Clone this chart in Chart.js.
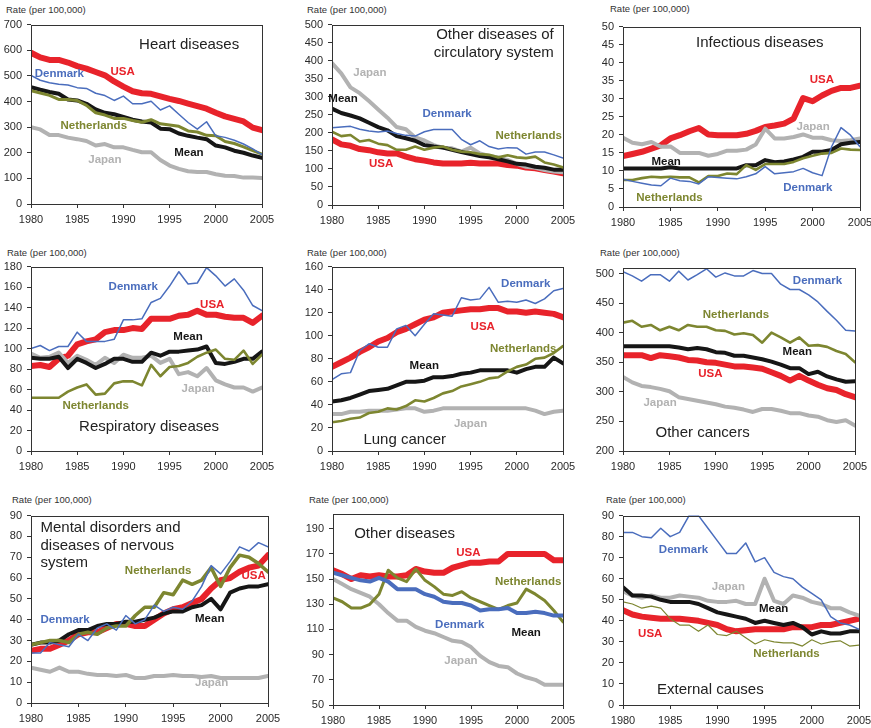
<!DOCTYPE html>
<html>
<head>
<meta charset="utf-8">
<script src="https://cdn.jsdelivr.net/npm/chart.js@4.4.1/dist/chart.umd.min.js"></script>
<style>
body { margin: 0; background: #fff; }
#page { position: relative; width: 871px; height: 728px; overflow: hidden; font-family: "Liberation Sans", Arial, sans-serif; }
.rate { position: absolute; font-size: 9.5px; color: #333; white-space: nowrap; line-height: 11px; }
canvas { position: absolute; }
</style>
</head>
<body>
<div id="page"></div>
<script>
const years = [1980,1981,1982,1983,1984,1985,1986,1987,1988,1989,1990,1991,1992,1993,1994,1995,1996,1997,1998,1999,2000,2001,2002,2003,2004,2005];

// Heart diseases
const heartUSA = [590,572,562,562,552,538,528,515,502,478,458,440,432,430,420,410,402,392,382,372,356,342,332,322,298,288];
const heartDenmark = [502,483,473,467,464,454,451,432,423,404,421,391,391,401,367,383,350,318,292,321,266,260,249,234,215,193];
const heartMean = [456,446,437,430,408,404,391,369,356,350,340,329,322,318,294,292,275,266,259,253,228,221,208,200,189,180];
const heartNetherlands = [442,433,424,408,408,404,385,356,347,334,334,326,319,329,313,308,303,285,281,268,266,244,236,223,208,195];
const heartJapan = [300,291,269,269,259,253,246,228,234,221,221,211,202,202,172,150,137,128,125,125,116,110,109,103,103,101];

// Other diseases of circulatory system
const circJapan = [393,365,326,310,288,265,242,216,210,187,179,166,159,157,148,159,143,136,132,125,114,106,103,97,93,91];
const circMean = [267,255,248,240,228,216,207,191,185,178,166,162,159,153,147,141,136,132,127,121,114,112,106,103,98,98];
const circDenmark = [214,216,218,210,205,202,205,198,193,191,203,209,209,209,182,167,178,162,155,159,158,141,147,147,139,130];
const circNetherlands = [203,191,194,176,180,170,166,153,153,162,153,159,162,153,148,146,141,139,132,138,132,130,134,118,112,104];
const circUSA = [182,168,164,155,152,146,143,143,134,127,123,118,115,115,115,117,115,115,115,111,109,104,102,97,93,88];

// Infectious diseases
const infUSA = [14.1,14.7,15.3,16.2,17.1,19.0,19.9,21.0,21.9,20.1,19.9,19.9,19.9,20.3,21.1,22.2,22.6,23.1,24.5,30.2,29.3,30.9,32.2,33.0,33.0,33.6];
const infJapan = [19.2,17.8,17.4,18.0,16.7,16.8,15.0,15.0,15.0,14.2,14.7,15.6,15.6,15.9,17.3,21.7,19.0,19.0,19.4,20.1,19.2,19.2,18.5,18.3,18.5,19.0];
const infMean = [10.7,10.7,10.7,10.7,10.7,11.0,10.7,10.7,10.7,10.7,10.7,10.7,10.7,11.6,11.6,13.0,12.4,12.6,13.2,13.9,15.3,15.3,15.8,17.4,17.8,18.0];
const infNetherlands = [7.5,7.5,8.0,8.4,8.2,8.4,8.2,8.2,6.8,8.6,8.6,9.3,9.1,11.6,10.3,11.9,11.9,11.9,12.5,13.5,14.2,14.8,15.0,16.2,15.9,15.8];
const infDenmark = [7.7,7.1,6.6,6.1,5.9,8.0,7.3,7.1,6.4,8.4,8.2,8.0,7.8,8.4,9.2,11.2,9.2,9.5,9.8,10.7,9.5,8.7,16.7,22.0,19.9,16.7];

// Respiratory diseases
const respDenmark = [100,103,98,102,102,116,107,107,107,109,128,128,129,145,149,161,175,163,164,179,171,161,168,157,142,137];
const respUSA = [83,84,82,90,93,104,107,109,116,118,118,120,119,129,129,129,132,133,137,133,133,131,130,130,125,132];
const respMean = [91,90,90,92,81,90,86,81,85,90,90,87,87,96,93,97,97,98,99,102,86,85,87,90,90,97];
const respJapan = [95,91,92,96,86,93,89,84,91,86,94,91,91,93,86,90,75,77,73,81,69,65,62,62,58,62];
const respNetherlands = [52,52,52,52,58,62,65,55,56,66,68,68,64,84,73,82,83,86,92,96,99,90,89,98,85,94];

// Lung cancer
const lungDenmark = [62,67,68,87,93,90,90,106,109,100,110,119,118,117,133,131,132,142,129,130,129,131,128,132,139,141];
const lungUSA = [73,77,81,86,90,95,98,103,106,110,114,116,120,121,122,123,123,124,124,121,121,120,121,120,119,116];
const lungMean = [43,44,46,49,52,53,54,57,60,60,61,64,64,65,67,68,70,70,70,70,68,71,73,73,81,76];
const lungNetherlands = [25,26,28,29,33,34,37,36,39,44,43,46,50,52,56,58,60,63,64,69,73,75,80,81,85,91];
const lungJapan = [32,32,34,34,35,35,35,36,37,37,34,35,37,37,37,37,37,37,37,37,37,37,35,32,34,35];

// Other cancers
const cancDenmark = [503,496,487,498,498,487,504,489,498,508,494,501,496,496,505,500,500,482,473,473,464,452,436,421,404,403];
const cancNetherlands = [417,420,410,413,404,410,404,413,410,410,404,403,397,399,396,383,400,392,383,392,378,379,376,369,364,350];
const cancMean = [377,377,377,377,377,377,375,372,374,372,367,366,361,361,358,355,351,346,340,340,330,334,326,321,317,318];
const cancUSA = [362,362,362,357,362,360,358,354,353,350,349,346,343,343,341,339,333,327,319,327,319,312,306,303,296,291];
const cancJapan = [325,316,310,308,305,301,291,288,285,282,279,275,273,270,266,271,271,268,264,264,260,258,252,249,252,243];

// Mental disorders and diseases of nervous system
const mentDenmark = [24,24,29,28,27,33,30,36,38,35,42,38,40,47,44,46,45,49,56,66,62,68,75,73,77,75];
const mentUSA = [25,26,26,28,30,33,34,34,36,38,38,37,37,40,43,45,46,48,50,55,59,60,63,65,66,71];
const mentMean = [28,29,29,30,33,35,35,37,38,38,39,39,40,41,43,44,44,46,47,50,45,53,55,56,56,57];
const mentNetherlands = [28,29,30,30,29,33,34,33,36,37,37,42,46,46,53,52,59,57,59,65,56,65,71,70,67,63];
const mentJapan = [17,16,15,17,15,15,14,13.5,13.5,13,13.5,12,12,13,13,13.5,13,13,12.5,13,12,12,12,12,12,13];

// Other diseases (no Mean line drawn in the original)
const othUSA = [157,154,150,153,152,153,152,152,153,158,156,155,155,159,161,163,163,164,164,170,170,170,170,170,165,165];
const othDenmark = [155,153,151,149,148,151,148,142,142,142,138,136,132,131,131,129,125,126,126,127,123,123,124,123,121,121];
const othNetherlands = [135,132,127,127,130,138,157,151,148,158,149,144,138,137,140,135,132,129,126,129,131,142,138,133,125,116];
const othJapan = [150,146,142,139,136,130,123,117,117,112,109,107,104,101,100,96,89,84,81,80,75,72,70,66,66,66];
const othTicks = [50,70,90,110,130,150,170,190];

// External causes
const extDenmark = [82,82,80,79.5,84,80,82,90,90,84,78,72,72,77,68,70,63,61,60,56,53,50,42,39,38,36];
const extJapan = [54,52,51,52,51,51,52,51.5,51,49.5,49,49,49.5,48,48,60,49.5,48,52,51,49,48,46,46,44,42.5];
const extMean = [56,52,52,51.5,50,49,49,49,48,46,44,43,42,41,39,40,39,38,39,37,33.5,35,34,34,35,35];
const extNetherlands = [49,48,46,47,46,41,38,38,35,38,33.5,33,35,32,29,31,30,29.5,29.5,28,31,29,30,30.5,28,28.5];
const extUSA = [45,43,42,41.5,41,41,41,40.5,40,39,38,36,35,35.5,36,36,36,36,37,37,37,38,38,39,40,41];

const colors = {
    USA: '#e8232b',
    Denmark: '#4a6dbd',
    Netherlands: '#7d8630',
    Mean: '#161616',
    Japan: '#b2b2b2'
};
const widths = { USA: 6, Denmark: 1.5, Netherlands: 2.6, Mean: 4, Japan: 4 };
// drawing order, first one ends up on top
const seriesOrder = ['Denmark', 'Netherlands', 'Mean', 'Japan', 'USA'];

const panels = [
    { area: [31, 23, 262, 204], y: [0, 700, 100], rate: [6, 4],
      series: { USA: heartUSA, Denmark: heartDenmark, Mean: heartMean, Netherlands: heartNetherlands, Japan: heartJapan },
      widths: { Netherlands: 3 },
      title: { lines: ['Heart diseases'], x: 1991.7, y: 620, align: 'left' },
      labels: [['USA', 1988.6, 517], ['Denmark', 1980.4, 507], ['Netherlands', 1983.2, 305], ['Mean', 1995.5, 200], ['Japan', 1986.2, 172]] },
    { area: [332, 23, 563, 205], y: [0, 500, 50], rate: [307, 4],
      series: { Japan: circJapan, Mean: circMean, Denmark: circDenmark, Netherlands: circNetherlands, USA: circUSA },
      title: { lines: ['Other diseases of', 'circulatory system'], x: 2004.0, y: 471, align: 'right' },
      labels: [['Japan', 1982.3, 367], ['Mean', 1979.6, 295], ['Denmark', 1989.8, 253], ['Netherlands', 1997.7, 191], ['USA', 1984.0, 115]] },
    { area: [623, 25, 860, 207], y: [0, 50, 5], rate: [610, 3],
      series: { USA: infUSA, Japan: infJapan, Mean: infMean, Netherlands: infNetherlands, Denmark: infDenmark },
      title: { lines: ['Infectious diseases'], x: 1987.7, y: 45.5, align: 'left' },
      labels: [['USA', 1999.7, 35.2], ['Japan', 1998.3, 22.3], ['Mean', 1983.0, 12.5], ['Denmark', 1996.9, 5.2], ['Netherlands', 1981.4, 2.5]] },
    { area: [31, 265, 262, 451], y: [0, 180, 20], rate: [7, 247],
      series: { Denmark: respDenmark, USA: respUSA, Mean: respMean, Japan: respJapan, Netherlands: respNetherlands },
      title: { lines: ['Respiratory diseases'], x: 1985.2, y: 24, align: 'left' },
      labels: [['Denmark', 1988.4, 160], ['USA', 1998.3, 143], ['Mean', 1995.4, 111], ['Japan', 1996.3, 61], ['Netherlands', 1983.4, 44]] },
    { area: [332, 265, 563, 451], y: [0, 160, 20], rate: [307, 247],
      series: { Denmark: lungDenmark, USA: lungUSA, Mean: lungMean, Netherlands: lungNetherlands, Japan: lungJapan },
      title: { lines: ['Lung cancer'], x: 1983.4, y: 10, align: 'left' },
      labels: [['Denmark', 1998.3, 145], ['USA', 1995.0, 108], ['Netherlands', 1997.1, 89], ['Mean', 1988.4, 74], ['Japan', 1993.2, 24]] },
    { area: [623, 266, 855, 451], y: [200, 510, 50], rate: [600, 247],
      series: { Denmark: cancDenmark, Netherlands: cancNetherlands, Mean: cancMean, USA: cancUSA, Japan: cancJapan },
      title: { lines: ['Other cancers'], x: 1983.5, y: 231, align: 'left' },
      labels: [['Denmark', 1998.3, 487], ['Netherlands', 1988.6, 431], ['Mean', 1997.2, 367], ['USA', 1988.1, 330], ['Japan', 1982.2, 282]] },
    { area: [31, 514, 268, 703], y: [0, 90, 10], rate: [12, 494],
      series: { Denmark: mentDenmark, USA: mentUSA, Mean: mentMean, Netherlands: mentNetherlands, Japan: mentJapan },
      widths: { Netherlands: 3.5 },
      title: { lines: ['Mental disorders and', 'diseases of nervous', 'system'], x: 1981.0, y: 84, align: 'left' },
      labels: [['Netherlands', 1989.9, 63.5], ['USA', 2002.2, 61], ['Denmark', 1981.0, 40], ['Mean', 1997.3, 40.5], ['Japan', 1997.3, 9.5]] },
    { area: [333, 512, 563, 705], y: [50, 202, 20], ticks: othTicks, rate: [309, 494],
      series: { USA: othUSA, Denmark: othDenmark, Netherlands: othNetherlands, Japan: othJapan },
      widths: { Denmark: 4, Netherlands: 3 },
      title: { lines: ['Other diseases'], x: 1982.3, y: 186, align: 'left' },
      labels: [['USA', 1993.4, 171], ['Netherlands', 1997.6, 148], ['Denmark', 1991.1, 114], ['Mean', 1999.4, 107], ['Japan', 1992.1, 85]] },
    { area: [623, 514, 859, 705], y: [0, 90, 10], rate: [606, 494],
      series: { Denmark: extDenmark, Japan: extJapan, Mean: extMean, Netherlands: extNetherlands, USA: extUSA },
      widths: { Netherlands: 1.2 },
      title: { lines: ['External causes'], x: 1983.6, y: 7.4, align: 'left' },
      labels: [['Denmark', 1983.8, 73.5], ['Japan', 1989.4, 56], ['Mean', 1994.4, 45.6], ['USA', 1981.6, 33.8], ['Netherlands', 1993.8, 24.4]] }
];

const AXW = 40, AXH = 26, PADT = 10, PADR = 20;
const FONT = '"Liberation Sans", Arial, sans-serif';

const panelText = {
    id: 'panelText',
    afterDatasetsDraw(chart, args, opts) {
        const ctx = chart.ctx;
        const a = chart.chartArea;
        const sx = chart.scales.x, sy = chart.scales.y;
        ctx.save();
        ctx.strokeStyle = '#333';
        ctx.lineWidth = 1;
        ctx.strokeRect(Math.round(a.left) + 0.5, Math.round(a.top) + 0.5, Math.round(a.right - a.left), Math.round(a.bottom - a.top));

        ctx.textBaseline = 'middle';
        ctx.font = 'bold 11.5px ' + FONT;
        opts.labels.forEach(l => {
            ctx.fillStyle = colors[l[0]];
            ctx.textAlign = 'left';
            ctx.fillText(l[0], sx.getPixelForValue(l[1]), sy.getPixelForValue(l[2]));
        });

        const t = opts.title;
        ctx.font = '15px ' + FONT;
        ctx.fillStyle = '#222';
        ctx.textAlign = t.align;
        const x0 = sx.getPixelForValue(t.x), y0 = sy.getPixelForValue(t.y);
        t.lines.forEach((line, i) => ctx.fillText(line, x0, y0 + i * 17.5));
        ctx.restore();
    }
};

function buildPanel(p) {
    const page = document.getElementById('page');
    const [L, T, R, B] = p.area;

    const rate = document.createElement('div');
    rate.className = 'rate';
    rate.textContent = 'Rate (per 100,000)';
    rate.style.left = p.rate[0] + 'px';
    rate.style.top = p.rate[1] + 'px';
    page.appendChild(rate);

    const canvas = document.createElement('canvas');
    const w = R - L + AXW + PADR, h = B - T + PADT + AXH;
    canvas.width = w;
    canvas.height = h;
    canvas.style.left = (L - AXW) + 'px';
    canvas.style.top = (T - PADT) + 'px';
    canvas.style.width = w + 'px';
    canvas.style.height = h + 'px';
    page.appendChild(canvas);

    const datasets = seriesOrder.filter(name => p.series[name]).map(name => ({
        label: name,
        data: p.series[name].map((v, i) => ({ x: years[i], y: v })),
        borderColor: colors[name],
        borderWidth: (p.widths && p.widths[name]) || widths[name],
        pointRadius: 0,
        tension: 0,
        fill: false,
        borderJoinStyle: 'round',
        borderCapStyle: 'round'
    }));

    new Chart(canvas.getContext('2d'), {
        type: 'line',
        data: { datasets: datasets },
        options: {
            responsive: false,
            animation: false,
            devicePixelRatio: 1,
            layout: { padding: { top: PADT, right: PADR, left: 0, bottom: 0 } },
            plugins: {
                legend: { display: false },
                tooltip: { enabled: false },
                panelText: { labels: p.labels, title: p.title }
            },
            scales: {
                x: {
                    type: 'linear', min: 1980, max: 2005,
                    border: { display: false },
                    grid: { drawOnChartArea: false, drawTicks: true, tickLength: 4, color: '#333' },
                    ticks: { stepSize: 5, color: '#2a2a2a', font: { size: 11, family: FONT }, padding: 5, maxRotation: 0,
                             callback: v => String(v) },
                    afterFit(s) { s.height = AXH; }
                },
                y: {
                    min: p.y[0], max: p.y[1],
                    border: { display: false },
                    grid: { drawOnChartArea: false, drawTicks: true, tickLength: 4, color: '#333' },
                    ticks: { stepSize: p.y[2], includeBounds: false, color: '#2a2a2a', font: { size: 11, family: FONT }, padding: 5 },
                    afterBuildTicks(s) { if (p.ticks) s.ticks = p.ticks.map(v => ({ value: v })); },
                    afterFit(s) { s.width = AXW; }
                }
            }
        },
        plugins: [panelText]
    });
}

panels.forEach(buildPanel);
</script>
</body>
</html>
